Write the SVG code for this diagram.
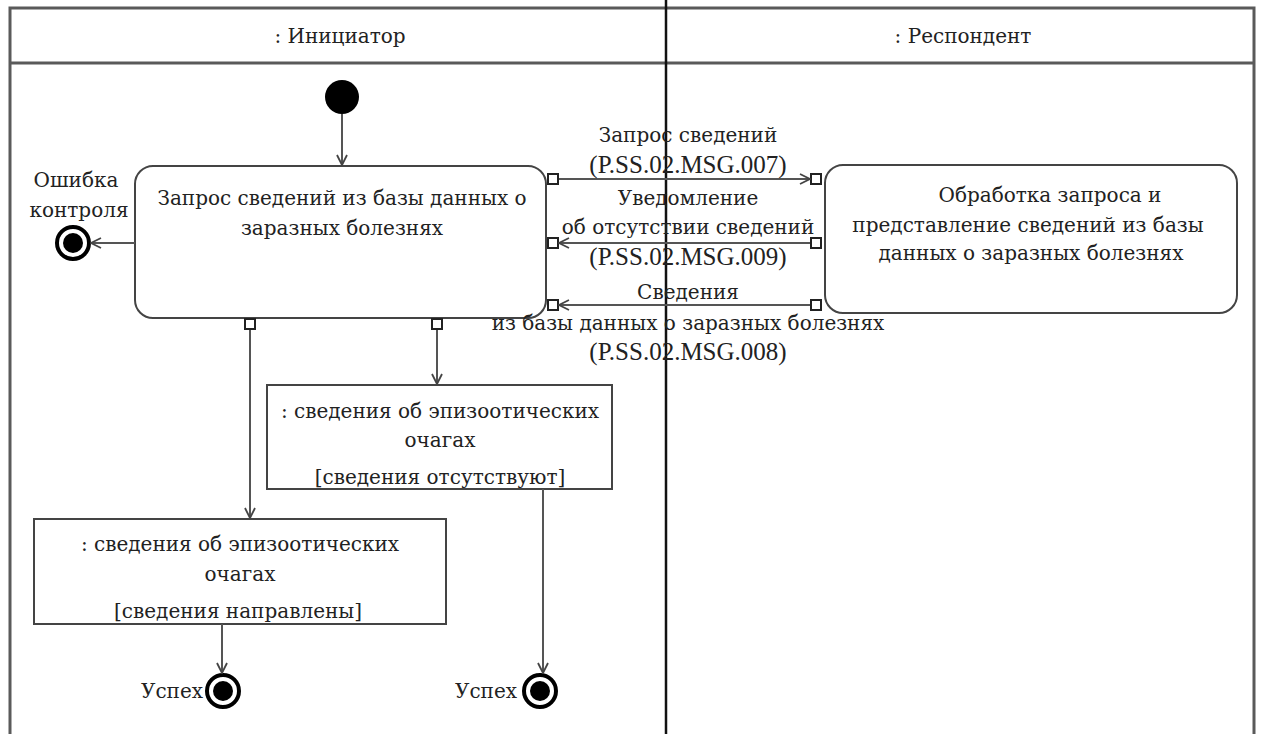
<svg xmlns="http://www.w3.org/2000/svg" width="1261" height="734" viewBox="0 0 1261 734">
<defs>
<style>
text{font-family:"DejaVu Serif",serif;font-size:20px;fill:#222;text-anchor:middle}
text.lat{font-family:"Liberation Serif",serif;font-size:25px}
.lane{stroke:#5a5a5a;stroke-width:3;fill:none}
.node{fill:#fff;stroke:#444;stroke-width:2}
.pin{fill:#fff;stroke:#222;stroke-width:2}
.flow{stroke:#555;stroke-width:2;fill:none;marker-end:url(#arr)}
</style>
<marker id="arr" markerWidth="12" markerHeight="12" refX="11" refY="6" orient="auto" markerUnits="userSpaceOnUse">
<path d="M1,1 L11,6 L1,11" fill="none" stroke="#444" stroke-width="1.8"/>
</marker>
</defs>
<rect width="1261" height="734" fill="#fff"/>
<g id="lanes">
<path class="lane" d="M10,734 V8 H1254 V734"/>
<line class="lane" x1="10" y1="63" x2="1254" y2="63"/>
<line x1="666" y1="0" x2="666" y2="734" stroke="#111" stroke-width="2.5"/>
<text x="340" y="43">: Инициатор</text>
<text x="963" y="43">: Респондент</text>
</g>
<g id="start"><circle cx="342" cy="97" r="17" fill="#000"/></g>
<g id="request">
<rect class="node" x="135" y="166" width="411" height="152" rx="18"/>
<text x="342" y="205">Запрос сведений из базы данных о</text>
<text x="342" y="235">заразных болезнях</text>
<rect class="pin" x="548" y="174" width="10" height="10"/>
<rect class="pin" x="548" y="238" width="10" height="10"/>
<rect class="pin" x="548" y="300" width="10" height="10"/>
<rect class="pin" x="245" y="319" width="10" height="10"/>
<rect class="pin" x="432" y="319" width="10" height="10"/>
</g>
<g id="process">
<rect class="node" x="825" y="165" width="412" height="148" rx="18"/>
<text x="1050" y="202">Обработка запроса и</text>
<text x="1028" y="232">представление сведений из базы</text>
<text x="1031" y="260">данных о заразных болезнях</text>
<rect class="pin" x="811" y="174" width="10" height="10"/>
<rect class="pin" x="811" y="238" width="10" height="10"/>
<rect class="pin" x="811" y="300" width="10" height="10"/>
</g>
<g id="error">
<circle cx="73" cy="243" r="16" fill="#fff" stroke="#000" stroke-width="4"/>
<circle cx="73" cy="243" r="10" fill="#000"/>
<text x="76" y="187">Ошибка</text>
<text x="79" y="217">контроля</text>
</g>
<g id="obj1">
<rect class="node" x="34" y="519" width="412" height="105"/>
<text x="240" y="551">: сведения об эпизоотических</text>
<text x="240" y="581">очагах</text>
<text x="238" y="618">[сведения направлены]</text>
</g>
<g id="obj2">
<rect class="node" x="267" y="385" width="345" height="104"/>
<text x="440" y="418">: сведения об эпизоотических</text>
<text x="440" y="447">очагах</text>
<text x="440" y="484">[сведения отсутствуют]</text>
</g>
<g id="final1">
<circle cx="223" cy="691" r="16" fill="#fff" stroke="#000" stroke-width="4"/>
<circle cx="223" cy="691" r="10" fill="#000"/>
<text x="172" y="698">Успех</text>
</g>
<g id="final2">
<circle cx="540" cy="691" r="16" fill="#fff" stroke="#000" stroke-width="4"/>
<circle cx="540" cy="691" r="10" fill="#000"/>
<text x="486" y="698">Успех</text>
</g>
<g id="connectors">
<line class="flow" x1="342" y1="114" x2="342" y2="165"/>
<line class="flow" x1="135" y1="243" x2="91" y2="243"/>
<line class="flow" x1="559" y1="179" x2="810" y2="179"/>
<line class="flow" x1="810" y1="243" x2="559" y2="243"/>
<line class="flow" x1="810" y1="305" x2="559" y2="305"/>
<line class="flow" x1="250" y1="330" x2="250" y2="518"/>
<line class="flow" x1="437" y1="330" x2="437" y2="384"/>
<line class="flow" x1="222" y1="624" x2="222" y2="673"/>
<line class="flow" x1="543" y1="489" x2="543" y2="673"/>
<text x="688" y="142">Запрос сведений</text>
<text class="lat" x="688" y="173">(P.SS.02.MSG.007)</text>
<text x="688" y="205">Уведомление</text>
<text x="688" y="234">об отсутствии сведений</text>
<text class="lat" x="688" y="265">(P.SS.02.MSG.009)</text>
<text x="688" y="299">Сведения</text>
<text x="688" y="330">из базы данных о заразных болезнях</text>
<text class="lat" x="688" y="360">(P.SS.02.MSG.008)</text>
</g>
</svg>
